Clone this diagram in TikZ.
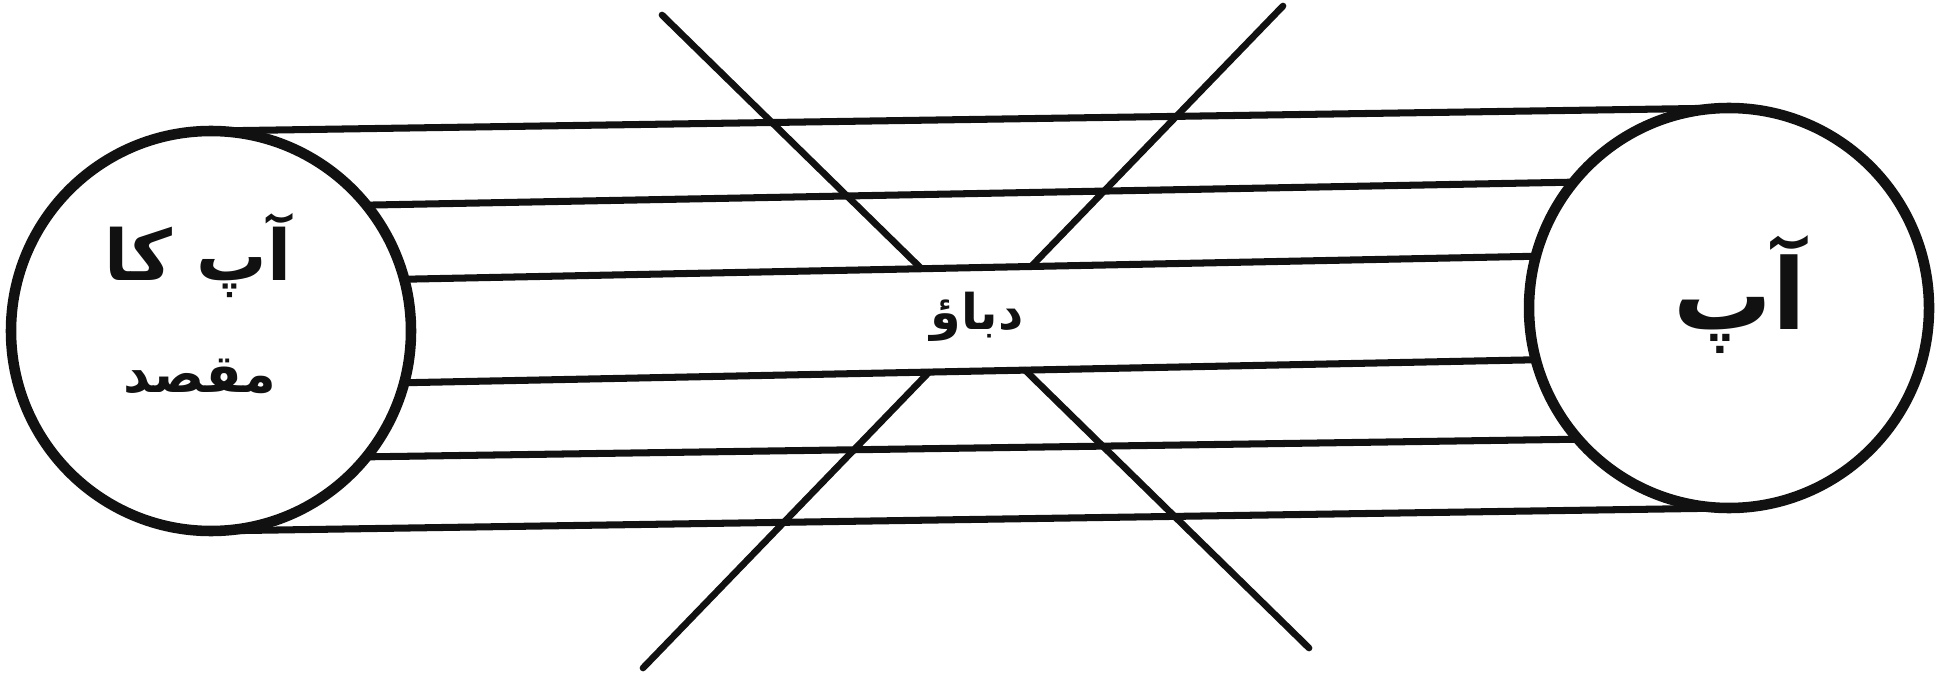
\documentclass[tikz,border=0pt]{standalone}
\usepackage{fontspec}
\newfontfamily\urdufont[Script=Arabic]{DejaVu Sans}
\TeXXeTstate=1
\definecolor{ink}{HTML}{111111}

\begin{document}
\begin{tikzpicture}[
  ring/.style={circle, draw=ink, line width=3pt, minimum size=4cm, inner sep=0pt, outer sep=0pt},
  band/.style={draw=ink, line width=2pt, line cap=round},
  cross/.style={draw=ink, line width=1.9pt, line cap=round},
  utxt/.style={font=\urdufont\bfseries\fontsize{20}{30}\selectfont, text=ink, align=center, inner sep=1pt},
]
\useasboundingbox (0,0) rectangle (19.38,6.81);
% the two ends
\node[ring] (goal) at (2.11,3.50) {};
\node[ring] (you) at (17.29,3.73) {};
\node[utxt,font=\urdufont\bfseries\fontsize{20}{24}\selectfont] (goaltxt) at (1.98,4.25) {\beginR آپ کا\endR};
\node[utxt,font=\urdufont\bfseries\fontsize{15}{18}\selectfont] (goaltxt2) at (2.00,3.05) {\beginR مقصد\endR};
\node[utxt,font=\urdufont\bfseries\fontsize{28}{30}\selectfont] (youtxt) at (17.40,3.86) {\beginR آپ\endR};
% bands between them
\draw[band] (goal.90) -- (you.90);
\draw[band] (goal.39) -- (you.141);
\draw[band] (goal.15) -- (you.165);
\draw[band] (goal.-15) -- (you.195);
\draw[band] (goal.-39) -- (you.221);
\draw[band] (goal.-90) -- (you.270);
% the cross, broken in the middle band
\coordinate (xa1) at (6.62,6.66);
\coordinate (xa2) at (13.09,0.33);
\coordinate (xb1) at (12.83,6.75);
\coordinate (xb2) at (6.43,0.13);
\draw[cross] (xa1) -- (intersection of xa1--xa2 and goal.15--you.165);
\draw[cross] (xb1) -- (intersection of xb1--xb2 and goal.15--you.165);
\draw[cross] (xa2) -- (intersection of xa1--xa2 and goal.-15--you.195);
\draw[cross] (xb2) -- (intersection of xb1--xb2 and goal.-15--you.195);
\node[utxt,font=\urdufont\bfseries\fontsize{14}{18}\selectfont] (press) at (9.77,3.64) {\beginR دباؤ\endR};

\end{tikzpicture}
\end{document}
